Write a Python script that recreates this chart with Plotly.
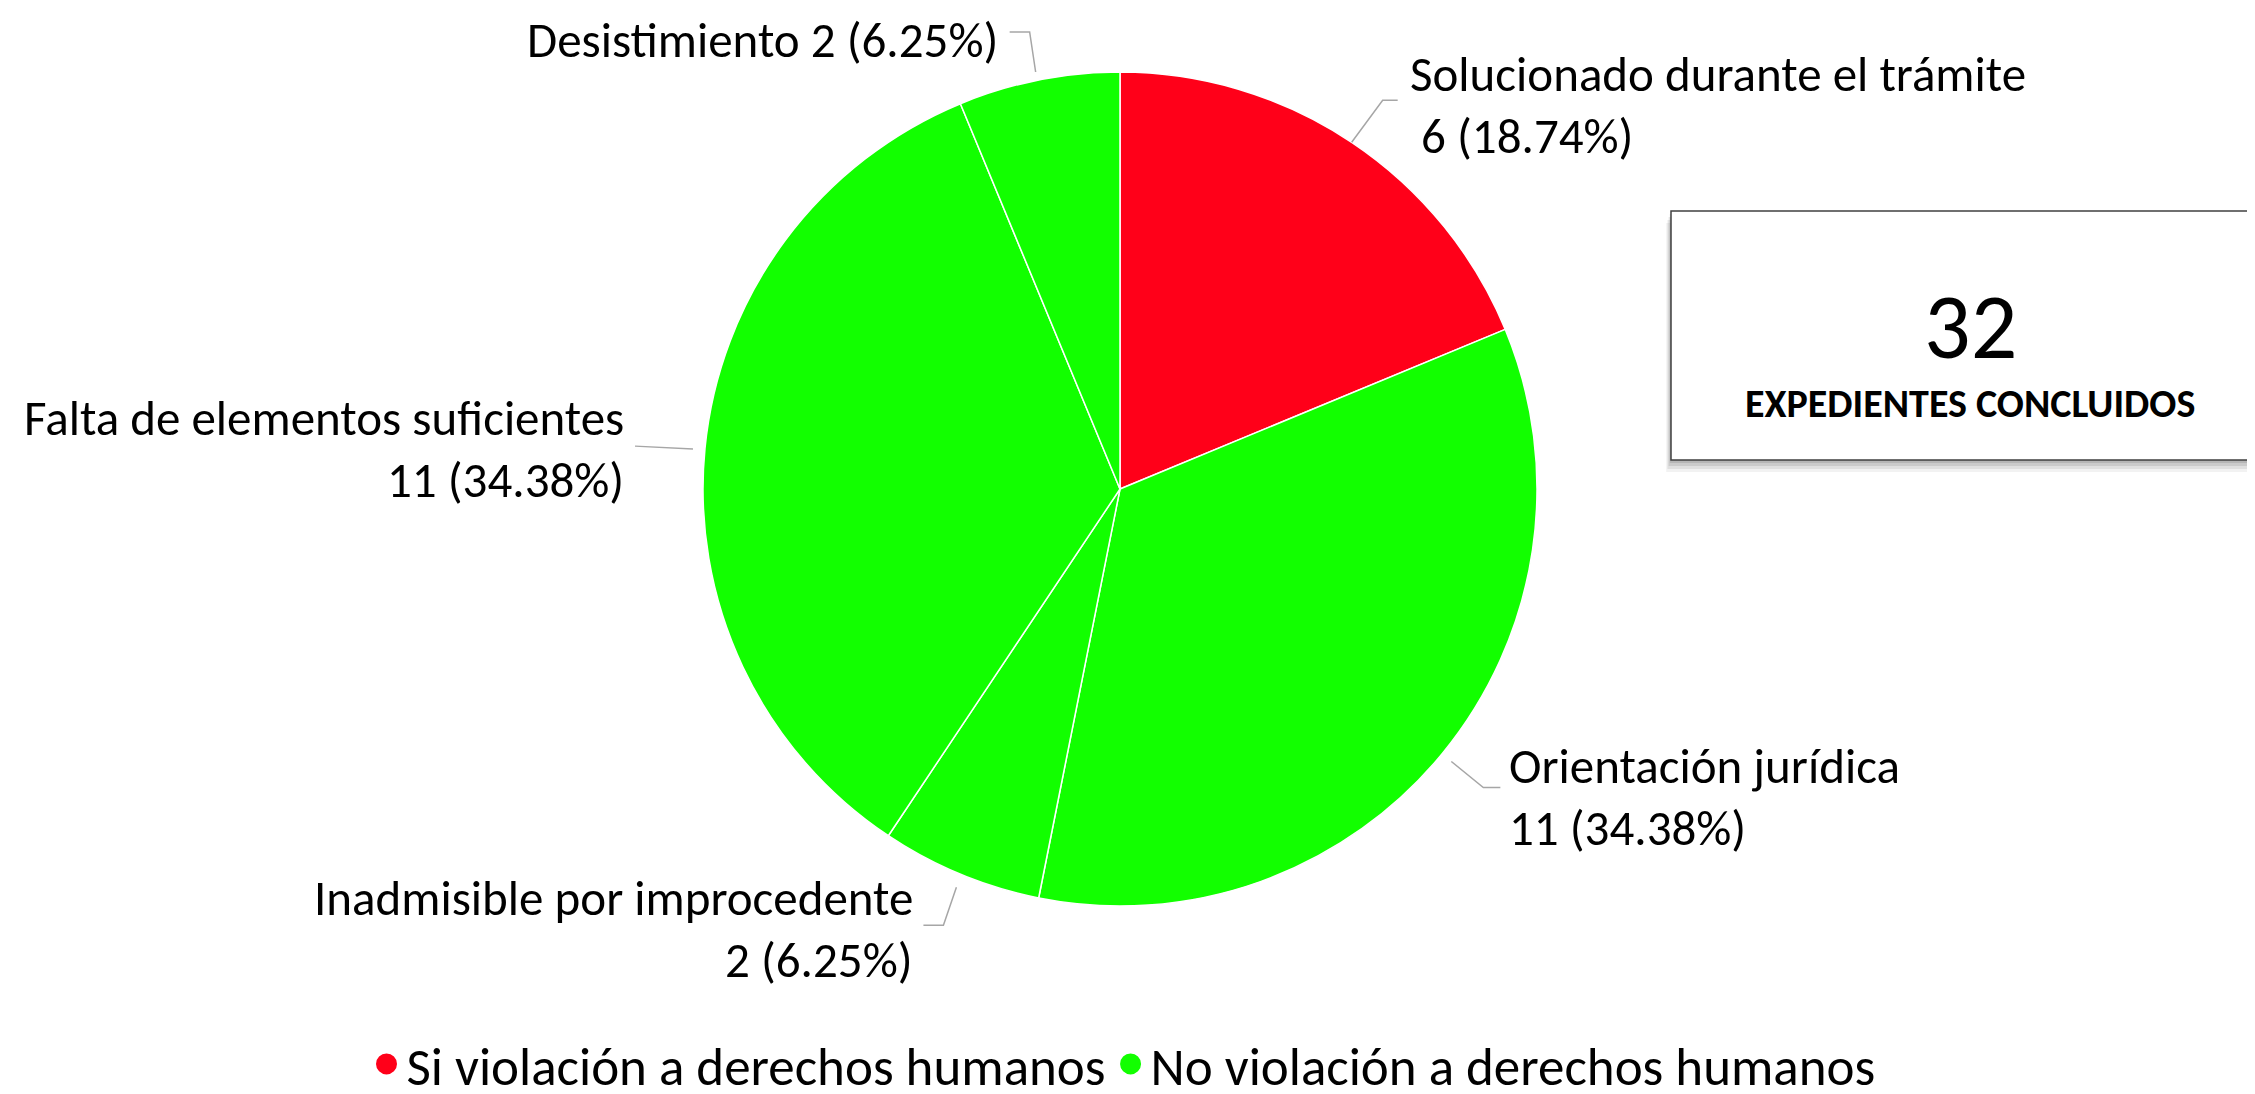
import numpy as np
import plotly.graph_objects as go

# ---------------- data ----------------
categories = [
    "Solucionado durante el trámite",
    "Orientación jurídica",
    "Inadmisible por improcedente",
    "Falta de elementos suficientes",
    "Desistimiento",
]
counts = [6, 11, 2, 11, 2]
pct_labels = ["18.74%", "34.38%", "6.25%", "34.38%", "6.25%"]
slice_group = [0, 1, 1, 1, 1]
legend_groups = ["Si violación a derechos humanos", "No violación a derechos humanos"]
total_value = "32"
total_caption = "EXPEDIENTES CONCLUIDOS"

# ---------------- styles ----------------
VIEW_W, VIEW_H = 2255, 1094     # browser window
PAGE_MARGIN = 8                 # default body margin of the html page
W, H = VIEW_W - PAGE_MARGIN, VIEW_H - PAGE_MARGIN
CX, CY, R = 1120, 489, 417      # pie geometry in window pixels
group_colors = ["#FF0019", "#12FF00"]
FONT = "Carlito, Calibri, Lato, sans-serif"
LABEL_SIZE = 49
LINE_GAP = 62
LEADER_COLOR = "#A6A6A6"

# per-slice label placement relative to the slice's outer mid point (pixels)
label_style = [
    dict(two_lines=True, prefix="\u00a0", leader=[(0, 0), (31, -42), (46, -42)], text=(56, -37), anchor="left"),
    dict(two_lines=True, prefix="", leader=[(9, 8), (41, 34), (58, 34)], text=(65, 43), anchor="left"),
    dict(two_lines=True, prefix="", leader=[(-4, 13), (-17, 51), (-37, 51)], text=(-45, 55), anchor="right"),
    dict(two_lines=True, prefix="", leader=[(-12, 1), (-70, -2)], text=(-79, 1), anchor="right"),
    dict(two_lines=False, prefix="", leader=[(-3, -8), (-9, -48), (-29, -48)], text=(-39, -40), anchor="right"),
]


def px(x):
    return (x - PAGE_MARGIN) / W


def py(y):
    return 1 - (y - PAGE_MARGIN) / H


fig = go.Figure()

fig.add_trace(go.Pie(
    labels=categories,
    values=counts,
    sort=False,
    direction="clockwise",
    rotation=0,
    textinfo="none",
    hoverinfo="label+value",
    marker=dict(colors=[group_colors[g] for g in slice_group],
                line=dict(color="white", width=1.5)),
    domain=dict(x=[px(CX - R), px(CX + R)], y=[py(CY + R), py(CY - R)]),
    showlegend=False,
))

# legend entries
for name, col in zip(legend_groups, group_colors):
    fig.add_trace(go.Scatter(
        x=[None], y=[None], mode="markers", name=name,
        marker=dict(symbol="circle", size=16, color=col, line=dict(color=col, width=5)),
    ))

# labels + leader lines computed from slice angles
total = sum(counts)
cum = np.cumsum([0] + counts)
annotations = []
shapes = []
for i, cat in enumerate(categories):
    mid = (cum[i] + cum[i + 1]) / 2 / total * 2 * np.pi
    ex, ey = CX + R * np.sin(mid), CY - R * np.cos(mid)
    st = label_style[i]
    pts = [(ex + dx, ey + dy) for dx, dy in st["leader"]]
    path = "M " + " L ".join(f"{px(x):.5f},{py(y):.5f}" for x, y in pts)
    shapes.append(dict(type="path", path=path, xref="paper", yref="paper",
                       line=dict(color=LEADER_COLOR, width=1.5)))
    tx, ty = ex + st["text"][0], ey + st["text"][1]
    second = f"{st['prefix']}{counts[i]} ({pct_labels[i]})"
    if st["two_lines"]:
        lines = [(cat, ty - LINE_GAP / 2), (second, ty + LINE_GAP / 2)]
    else:
        lines = [(f"{cat} {second}", ty)]
    for txt, yy in lines:
        annotations.append(dict(
            x=px(tx), y=py(yy), xref="paper", yref="paper", text=txt,
            showarrow=False, xanchor=st["anchor"], yanchor="middle",
            font=dict(family=FONT, size=LABEL_SIZE, color="black"),
        ))

# summary box with soft shadow
BX0, BX1, BY0, BY1 = 1671, 2300, 211, 460
for k, op in [(12, 0.05), (9, 0.07), (6, 0.09), (3, 0.10)]:
    shapes.append(dict(type="rect", xref="paper", yref="paper",
                       x0=px(BX0 - k * 0.4), x1=px(BX1), y0=py(BY1 + k), y1=py(BY0 + k),
                       line=dict(width=0), fillcolor=f"rgba(0,0,0,{op})", layer="above"))
shapes.append(dict(type="rect", xref="paper", yref="paper",
                   x0=px(BX0), x1=px(BX1), y0=py(BY1), y1=py(BY0),
                   line=dict(color="#404040", width=1.5), fillcolor="white", layer="above"))

BCX = 1970
annotations.append(dict(x=px(BCX), y=py(326), xref="paper", yref="paper", text=total_value,
                        showarrow=False, xanchor="center", yanchor="middle",
                        font=dict(family=FONT, size=92, color="black")))
annotations.append(dict(x=px(BCX), y=py(404), xref="paper", yref="paper",
                        text=f"<b>{total_caption}</b>",
                        showarrow=False, xanchor="center", yanchor="middle",
                        font=dict(family=FONT, size=40, color="black")))

fig.update_layout(
    width=W, height=H,
    margin=dict(l=0, r=0, t=0, b=0, autoexpand=False),
    paper_bgcolor="white", plot_bgcolor="white",
    xaxis=dict(visible=False), yaxis=dict(visible=False),
    font=dict(family=FONT, color="black"),
    shapes=shapes,
    annotations=annotations,
    legend=dict(orientation="h", x=px(VIEW_W / 2 - 4), xanchor="center",
                y=py(1064), yanchor="middle",
                font=dict(family=FONT, size=53, color="black"),
                itemwidth=30, tracegroupgap=0, bgcolor="rgba(0,0,0,0)"),
)

fig.write_html("out.html")
